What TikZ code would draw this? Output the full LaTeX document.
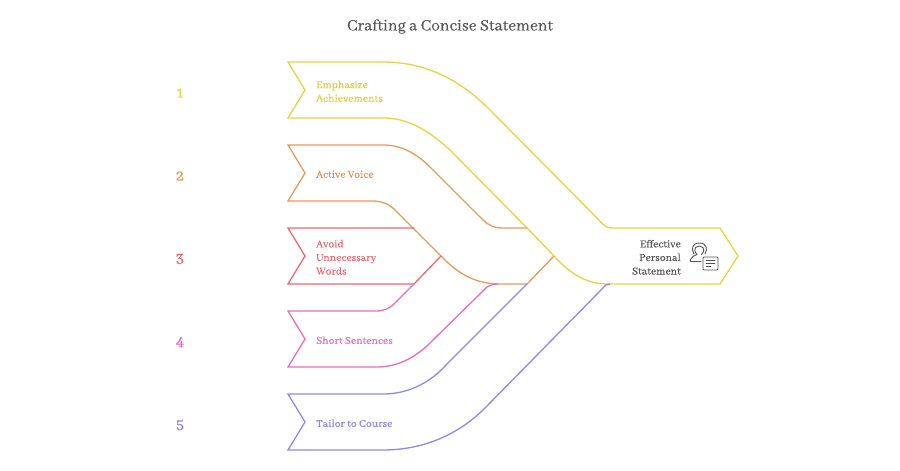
\documentclass[tikz,border=0pt]{standalone}
\usepackage{fontspec}
\setmainfont{Abhaya Libre}
\newfontfamily\labfont[FakeBold=0.3]{Abhaya Libre}
\newfontfamily\numfont[FakeBold=0.9]{Abhaya Libre}
\newfontfamily\titfont[FakeBold=0.15]{Abhaya Libre}
\definecolor{cyel}{HTML}{E8D43C}
\definecolor{cora}{HTML}{EA9A58}
\definecolor{cred}{HTML}{F2686E}
\definecolor{cpin}{HTML}{EC6CBC}
\definecolor{cpur}{HTML}{9088F0}
\definecolor{cgry}{HTML}{555555}
\tikzset{
  band/.style={line width=1.3pt,line join=miter},
  lab/.style={font=\labfont\fontsize{11.6}{13.6}\selectfont,align=left,anchor=west,inner sep=0pt},
  num/.style={font=\numfont\fontsize{17}{17}\selectfont,anchor=center,inner sep=0pt},
  icon/.style={cgry,line width=0.9pt,line join=round,line cap=round}
}
\begin{document}
\begin{tikzpicture}[x=1pt,y=-1pt]
\useasboundingbox (0,0) rectangle (900,471);
\fill[white] (0,0) rectangle (900,471);
\node[font=\titfont\fontsize{17.4}{20}\selectfont,text=cgry,inner sep=0pt] (title) at (450,26.5) {Crafting a Concise Statement};
% yellow
\draw[band,cyel] (527,228) -- (450,150) .. controls (425,127) and (405,118) .. (383,118) -- (288,118) -- (305,90) -- (288,62) -- (383,62) .. controls (425,62) and (458,79) .. (487,107) -- (597,218) .. controls (603,225) and (606,228) .. (612,228) -- (720,228) -- (738,256) -- (720,284) -- (608,284) .. controls (585,284) and (570,273) .. (554,256) -- (527,228);
% orange
\draw[band,cora] (527,228) -- (503,228) .. controls (494,228) and (488,225) .. (483,220) -- (430,167) .. controls (415,152) and (400,145) .. (383,145) -- (288,145) -- (305,173) -- (288,201) -- (372,201) .. controls (382,201) and (389,204) .. (395,210) -- (441,256) .. controls (460,276) and (478,284) .. (500,284) -- (527,284) -- (554,256);
% red
\draw[band,cred] (414,228) -- (288,228) -- (305,256) -- (288,284) -- (414,284) -- (441,256);
% pink
\draw[band,cpin] (414,284) -- (395,303) .. controls (389,309) and (384,311) .. (375,311) -- (288,311) -- (305,339) -- (288,367) -- (377,367) .. controls (397,367) and (415,358) .. (430,343) -- (487,287) .. controls (490,285) and (493,284) .. (498,284);
% purple
\draw[band,cpur] (527,284) -- (447,364) .. controls (430,383) and (408,394) .. (383,394) -- (288,394) -- (305,422) -- (288,450) -- (383,450) .. controls (420,450) and (455,437) .. (483,410) -- (603,288) .. controls (605,285) and (607,284) .. (610,284);
% labels
\node[lab,text=cyel!97!black] (l1) at (316,91.3) {Emphasize\\Achievements};
\node[lab,text=cora!97!black] (l2) at (316,174.3) {Active Voice};
\node[lab,text=cred] (l3) at (316,257.3) {Avoid\\Unnecessary\\Words};
\node[lab,text=cpin] (l4) at (316,340.3) {Short Sentences};
\node[lab,text=cpur] (l5) at (316,423.3) {Tailor to Course};
\node[lab,align=right,anchor=east,text=cgry] (l6) at (681,257.3) {Effective\\Personal\\Statement};
\node[num,text=cyel] (n1) at (180,93) {1};
\node[num,text=cora] (n2) at (180,176) {2};
\node[num,text=cred] (n3) at (180,259) {3};
\node[num,text=cpin] (n4) at (180,342) {4};
\node[num,text=cpur] (n5) at (180,425) {5};
% icon
\draw[icon,rounded corners=1pt] (703,257) rectangle (718,270);
\draw[icon] (706,260.5) -- (715,260.5) (706,263.5) -- (715,263.5) (706,266.5) -- (711,266.5);
\draw[icon] (701,261.5) -- (691,261.5) .. controls (690,261.5) and (690,260.5) .. (690.5,259.5) .. controls (691.5,257) and (694,255.5) .. (697,254.5) .. controls (694.5,252) and (694,249) .. (695.5,247.5) .. controls (697.5,245.5) and (701,245.5) .. (703,247.5) .. controls (704.5,249) and (704,252) .. (701.5,254.5);
\draw[icon] (694,254) .. controls (691,249) and (692,243) .. (699.5,243) .. controls (706.5,243) and (708,249) .. (705,254);
\end{tikzpicture}
\end{document}
